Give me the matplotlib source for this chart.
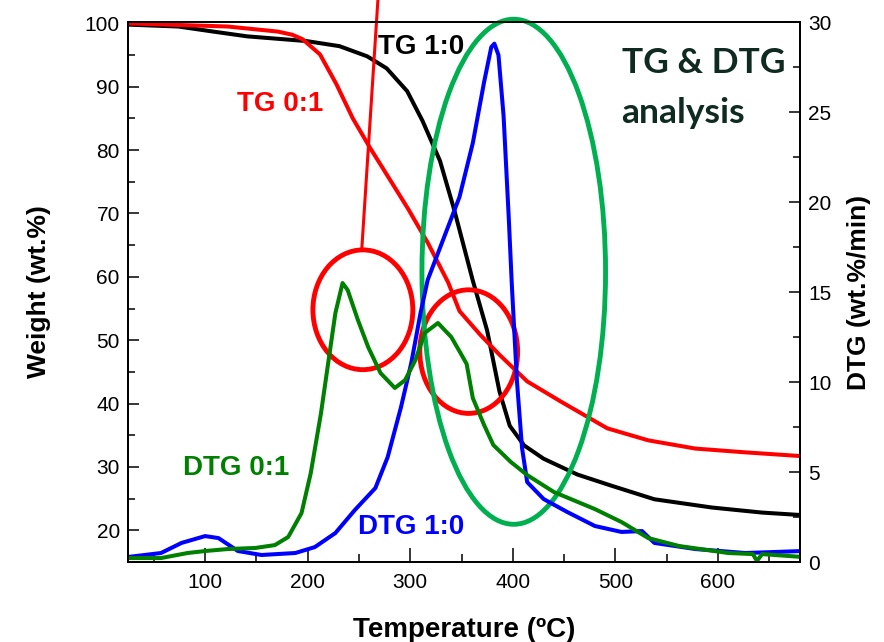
import matplotlib
matplotlib.use("agg")
import matplotlib.pyplot as plt
from matplotlib.patches import Ellipse
from matplotlib.ticker import MultipleLocator

plt.rcParams['font.family'] = ['Liberation Sans', 'DejaVu Sans']

# TG 1:0 (weight %, left axis)
tg10_t = [25, 74, 108, 141, 199, 231, 258, 277, 297, 312, 329, 343, 361, 375, 387, 397,
          411, 430, 463, 495, 538, 594, 643, 682]
tg10_w = [99.8, 99.5, 98.7, 97.95, 97.2, 96.4, 94.8, 92.9, 89.3, 84.6, 78.3, 70.5, 59.4,
          51.5, 41.9, 36.5, 33.4, 31.3, 28.8, 27.1, 24.9, 23.6, 22.8, 22.4]

# TG 0:1 (weight %, left axis)
tg01_t = [25, 122, 171, 185, 195, 212, 228, 244, 261, 273, 298, 317, 337, 348, 368, 387, 414,
          447, 492, 532, 578, 627, 682]
tg01_w = [100.0, 99.5, 98.7, 98.2, 97.5, 95.1, 90.4, 85.0, 80.3, 77.2, 70.7, 65.4, 59.1, 54.6,
          50.9, 47.7, 43.5, 40.3, 36.1, 34.2, 32.9, 32.3, 31.7]

# DTG 1:0 (wt.%/min, right axis)
dtg10_t = [25, 57, 77, 100, 113, 132, 155, 188, 207, 227, 246, 266, 278, 291, 301, 310, 317,
           348, 361, 372, 379, 382, 386, 391, 396, 399, 404, 409, 414, 430, 453, 480, 506, 526,
           538, 578, 627, 682]
dtg10_v = [0.28, 0.5, 1.06, 1.44, 1.33, 0.61, 0.39, 0.5, 0.83, 1.61, 2.89, 4.11, 5.83, 8.61,
           11.06, 13.83, 15.67, 20.28, 23.28, 26.67, 28.61, 28.8, 28.17, 24.78, 19.17, 15.44,
           10.06, 6.33, 4.44, 3.5, 2.78, 2.0, 1.67, 1.72, 1.06, 0.72, 0.5, 0.61]

# DTG 0:1 (wt.%/min, right axis)
dtg01_t = [25, 57, 83, 100, 122, 149, 168, 181, 194, 203, 213, 220, 227, 234, 239, 249, 259,
           271, 285, 295, 305, 314, 327, 340, 349, 355, 361, 372, 381, 398, 414, 440, 480, 506,
           532, 562, 610, 634, 638, 643, 682]
dtg01_v = [0.22, 0.22, 0.5, 0.61, 0.72, 0.78, 0.94, 1.39, 2.72, 4.94, 8.28, 11.06, 13.83, 15.5,
           15.11, 13.44, 11.94, 10.5, 9.67, 10.11, 11.22, 12.72, 13.28, 12.5, 11.61, 11.0, 9.11,
           7.61, 6.5, 5.56, 4.83, 3.89, 2.94, 2.22, 1.33, 0.89, 0.5, 0.44, 0.06, 0.44, 0.28]

fig = plt.figure(figsize=(8.84, 6.42), dpi=100)
ax = fig.add_axes([0.145, 0.1246, 0.76, 0.841])
ax2 = ax.twinx()

lw = 2.9
ax.plot(tg10_t, tg10_w, color='black', lw=lw)
ax.plot(tg01_t, tg01_w, color='#ff0000', lw=lw)
ax2.plot(dtg10_t, dtg10_v, color='#0000ff', lw=lw)
ax2.plot(dtg01_t, dtg01_v, color='#008000', lw=lw)

ax.set_xlim(25, 680)
ax.set_ylim(15, 100.2)
ax2.set_ylim(0, 30)

ax.xaxis.set_major_locator(MultipleLocator(100))
ax.xaxis.set_minor_locator(MultipleLocator(50))
ax.yaxis.set_major_locator(MultipleLocator(10))
ax.yaxis.set_minor_locator(MultipleLocator(5))
ax2.yaxis.set_major_locator(MultipleLocator(5))
ax2.yaxis.set_minor_locator(MultipleLocator(2.5))

for a in (ax, ax2):
    a.tick_params(which='major', direction='in', length=8, width=1.1, labelsize=15, pad=6)
    a.tick_params(which='minor', direction='in', length=5, width=1.1)
    for s in a.spines.values():
        s.set_linewidth(1.3)
ax.tick_params(axis='x', which='major', length=10, pad=8)
ax.tick_params(axis='x', which='minor', length=6)

ax.set_xlabel('Temperature (ºC)', fontsize=20, fontweight='bold', labelpad=18)
ax.set_ylabel('Weight (wt.%)', fontsize=19, fontweight='bold', labelpad=24)
ax2.set_ylabel('DTG (wt.%/min)', fontsize=19, fontweight='bold', labelpad=11)

# highlight shapes
ax2.add_patch(Ellipse((253.8, 54.8), 97.4, 18.9, fill=False, ec='#ff0000', lw=3.5,
                      transform=ax.transData))
ax2.add_patch(Ellipse((357, 48.2), 95.4, 19.5, fill=False, ec='#ff0000', lw=3.5,
                      transform=ax.transData))
ax2.add_patch(Ellipse((400.9, 60.8), 179, 79.7, fill=False, ec='#00b050', lw=3.5,
                      transform=ax.transData, clip_on=False))
ax2.plot([252.8, 269.4], [64.5, 106], color='#ff0000', lw=2.2, transform=ax.transData,
         clip_on=False)

tkw = dict(fontsize=20, fontweight='bold', transform=ax.transData, ha='left', va='center')
ax2.text(268.4, 96.3, 'TG 1:0', color='black', **tkw)
ax2.text(131, 87.2, 'TG 0:1', color='#ff0000', **tkw)
ax2.text(78.6, 29.8, 'DTG 0:1', color='#008000', **tkw)
ax2.text(249, 20.5, 'DTG 1:0', color='#0000ff', **tkw)
hkw = dict(color='#0f2a20', fontsize=25.5, fontweight='bold', family=['Lato', 'DejaVu Sans'],
           transform=ax.transData, ha='left', va='baseline')
ax2.text(506, 92.1, 'TG & DTG', **hkw)
ax2.text(506, 84.25, 'analysis', **hkw)

plt.savefig("out.png", dpi=100)
